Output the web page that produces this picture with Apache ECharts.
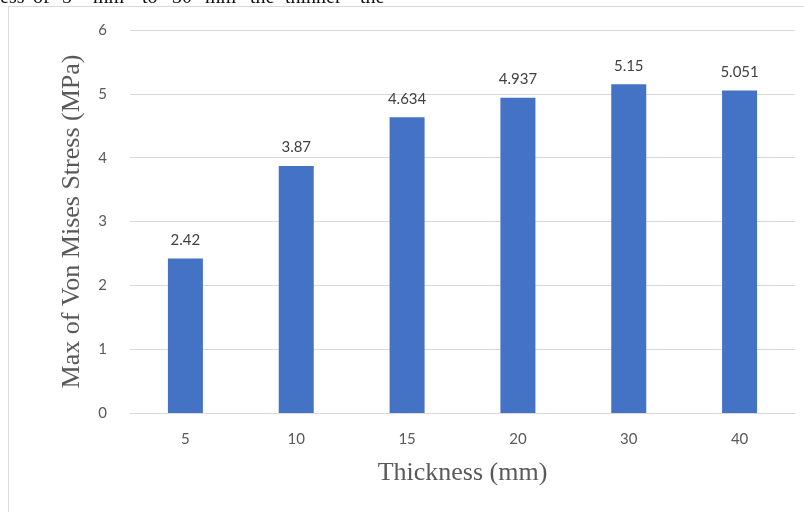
<!DOCTYPE html>
<html>
<head>
<meta charset="utf-8">
<script src="https://cdn.jsdelivr.net/npm/echarts@6/dist/echarts.min.js"></script>
<style>
  html, body { margin: 0; padding: 0; background: #ffffff; }
  #chart { width: 804px; height: 512px; }
</style>
</head>
<body>
<div id="chart"></div>
<script>
// Plate thickness (mm) against peak von Mises stress (MPa)
const thicknessLabels = ['5', '10', '15', '20', '30', '40'];
const maxStress = [2.42, 3.87, 4.634, 4.937, 5.15, 5.051];
const yTicks = { min: 0, max: 6, interval: 1 };

// Words of the running text line above the chart frame, with their x offsets
const captionWords = ['ess', 'of', '5', 'mm', 'to', '30', 'mm', 'the', 'thinner', 'the'];
const captionX = [0, 33, 62, 93, 142, 172, 205, 250, 285, 360];

const chart = echarts.init(document.getElementById('chart'), null, { renderer: 'canvas' });

const axisText = { color: '#595959', fontFamily: 'Lato, "Open Sans", sans-serif', fontSize: 15 };
const titleFont = '"Liberation Serif", "Times New Roman", serif';

chart.setOption({
  animation: false,
  backgroundColor: '#ffffff',
  grid: { left: 130, right: 9, top: 30, bottom: 99 },
  graphic: [
    // chart frame (top and left edges visible)
    { type: 'line', shape: { x1: 8, y1: 6.5, x2: 804, y2: 6.5 }, style: { stroke: '#d9d9d9', lineWidth: 1 } },
    { type: 'line', shape: { x1: 8.5, y1: 6, x2: 8.5, y2: 512 }, style: { stroke: '#d9d9d9', lineWidth: 1 } }
  ].concat(captionWords.map((w, i) => ({
    type: 'text',
    x: captionX[i],
    y: 8,
    style: {
      text: w,
      font: '20px "Liberation Serif", "DejaVu Serif", serif',
      fill: '#111111',
      textVerticalAlign: 'bottom'
    }
  }))),
  xAxis: {
    type: 'category',
    data: thicknessLabels,
    name: 'Thickness (mm)',
    nameLocation: 'middle',
    nameGap: 47,
    nameTextStyle: { color: '#595959', fontFamily: titleFont, fontSize: 26 },
    axisLine: { show: true, lineStyle: { color: '#d9d9d9', width: 1 } },
    axisTick: { show: false },
    axisLabel: Object.assign({ margin: 19 }, axisText)
  },
  yAxis: {
    type: 'value',
    min: yTicks.min,
    max: yTicks.max,
    interval: yTicks.interval,
    name: 'Max of Von Mises Stress (MPa)',
    nameLocation: 'middle',
    nameGap: 45,
    nameTextStyle: { color: '#595959', fontFamily: titleFont, fontSize: 26 },
    axisLine: { show: false },
    axisTick: { show: false },
    axisLabel: Object.assign({ margin: 23 }, axisText),
    splitLine: { lineStyle: { color: '#d9d9d9', width: 1 } }
  },
  series: [{
    type: 'bar',
    data: maxStress,
    barWidth: 35,
    itemStyle: { color: '#4472c4' },
    label: {
      show: true,
      position: 'top',
      distance: 11,
      color: '#404040',
      fontFamily: 'Lato, "Open Sans", sans-serif',
      fontSize: 15
    }
  }]
});
</script>
</body>
</html>
